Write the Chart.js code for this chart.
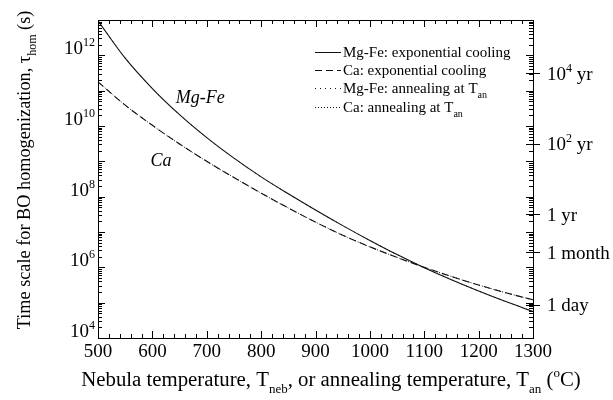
<!DOCTYPE html>
<html>
<head>
<meta charset="utf-8">
<title>Time scale for BO homogenization</title>
<script src="https://cdn.jsdelivr.net/npm/chart.js@4.4.1/dist/chart.umd.min.js"></script>
<style>
    html, body { margin: 0; padding: 0; background: #fff; }
    #wrap { width: 613px; height: 400px; position: relative; }
</style>
</head>
<body>
<div id="wrap"><canvas id="chart"></canvas></div>
<script>
(function () {
    'use strict';

    const temps = [500, 550, 600, 650, 700, 750, 800, 850, 900, 950, 1000, 1050, 1100, 1150, 1200, 1250, 1300];

    // log10 of tau_hom (s)
    const logMgFe = [12.98, 11.92, 11.06, 10.32, 9.67, 9.09, 8.56, 8.08, 7.62, 7.18, 6.76, 6.36, 5.99, 5.65, 5.33, 5.03, 4.75];
    const logCa   = [11.25, 10.59, 10.02, 9.49, 9.00, 8.54, 8.10, 7.68, 7.28, 6.91, 6.58, 6.28, 6.00, 5.74, 5.50, 5.28, 5.08];

    // annealing curves lie on top of the cooling curves at this scale
    const logMgFeAnneal = logMgFe;
    const logCaAnneal = logCa;

    // axis ticks and labels
    const xTicks = [500, 600, 700, 800, 900, 1000, 1100, 1200, 1300];
    const yLabelExps = [4, 6, 8, 10, 12];
    const rightTickValues = [86400, 2.63e6, 3.156e7, 3.156e9, 3.156e11];
    const rightTickLabels = ['1 day', '1 month', '1 yr', '10^{2} yr', '10^{4} yr'];

    const seriesLabels = [
        'Mg-Fe: exponential cooling',
        'Ca: exponential cooling',
        'Mg-Fe: annealing at T_{an}',
        'Ca: annealing at T_{an}'
    ];

    const SERIF = '"Liberation Serif", "Times New Roman", "DejaVu Serif", serif';
    const INK = '#111';

    function toPoints(logs) {
        return temps.map((t, i) => ({ x: t, y: Math.pow(10, logs[i]) }));
    }

    // split "T_{an}" / "10^{4}" into plain, sub and sup pieces
    function parseRich(str) {
        const parts = str.split(/(\^\{[^}]*\}|_\{[^}]*\})/).filter(s => s.length);
        return parts.map(p => {
            if (p.startsWith('^{')) return { text: p.slice(2, -1), mode: 'sup' };
            if (p.startsWith('_{')) return { text: p.slice(2, -1), mode: 'sub' };
            return { text: p, mode: 'normal' };
        });
    }

    function segFont(seg, size, style) {
        const s = seg.mode === 'normal' ? size : Math.round(size * 0.64);
        return `${style || ''} ${s}px ${SERIF}`;
    }

    function richWidth(ctx, str, size, style) {
        let w = 0;
        parseRich(str).forEach(seg => {
            ctx.font = segFont(seg, size, style);
            w += ctx.measureText(seg.text).width;
        });
        return w;
    }

    // draw text with sub/superscripts, y is the baseline
    function drawRich(ctx, str, x, y, size, align, style) {
        const segs = parseRich(str);
        const total = richWidth(ctx, str, size, style);
        let cx = x;
        if (align === 'center') cx = x - total / 2;
        else if (align === 'right') cx = x - total;
        ctx.textAlign = 'left';
        ctx.textBaseline = 'alphabetic';
        segs.forEach(seg => {
            ctx.font = segFont(seg, size, style);
            let dy = 0;
            if (seg.mode === 'sup') dy = -size * 0.42;
            if (seg.mode === 'sub') dy = size * 0.32;
            ctx.fillText(seg.text, cx, y + dy);
            cx += ctx.measureText(seg.text).width;
        });
    }

    // font size that makes a title span the given width
    function fitSize(ctx, str, width) {
        return 19 * width / richWidth(ctx, str, 19);
    }

    const axesPlugin = {
        id: 'paperAxes',
        afterDraw(chart) {
            const { ctx, chartArea: a, scales } = chart;
            const xs = scales.x;
            const ys = scales.y;
            const yr = scales.y2;

            ctx.save();
            ctx.strokeStyle = '#000';
            ctx.fillStyle = '#000';
            ctx.lineWidth = 1;

            // frame
            ctx.strokeRect(Math.round(a.left) + 0.5, Math.round(a.top) + 0.5,
                Math.round(a.right - a.left), Math.round(a.bottom - a.top));

            // x ticks: major every 100, minor every 20, inward on top and bottom
            ctx.beginPath();
            for (let v = xs.min; v <= xs.max; v += 20) {
                const px = Math.round(xs.getPixelForValue(v)) + 0.5;
                const len = v % 100 === 0 ? 7 : 4;
                ctx.moveTo(px, a.bottom);
                ctx.lineTo(px, a.bottom - len);
                ctx.moveTo(px, a.top);
                ctx.lineTo(px, a.top + len);
            }
            // y ticks: decades and 2..9 minors, inward on left and right
            for (let d = 4; d <= 12; d++) {
                for (let k = 1; k <= 9; k++) {
                    const v = k * Math.pow(10, d);
                    if (v > ys.max) break;
                    const py = Math.round(ys.getPixelForValue(v)) + 0.5;
                    const len = k === 1 ? 7 : 4;
                    ctx.moveTo(a.left, py);
                    ctx.lineTo(a.left + len, py);
                    ctx.moveTo(a.right, py);
                    ctx.lineTo(a.right - len, py);
                }
            }
            // right axis labelled ticks, crossing the axis
            rightTickValues.forEach(v => {
                const py = Math.round(yr.getPixelForValue(v)) + 0.5;
                ctx.moveTo(a.right - 7, py);
                ctx.lineTo(a.right + 7, py);
            });
            ctx.stroke();

            // tick labels
            xTicks.forEach(v => {
                drawRich(ctx, String(v), xs.getPixelForValue(v), 357, 19, 'center');
            });
            yLabelExps.forEach(e => {
                const py = ys.getPixelForValue(Math.pow(10, e));
                drawRich(ctx, '10^{' + e + '}', 95, py - 1, 19, 'right');
            });
            rightTickValues.forEach((v, i) => {
                const py = yr.getPixelForValue(v);
                drawRich(ctx, rightTickLabels[i], 547, py + 6.5, 19, 'left');
            });

            // axis titles
            const xTitle = 'Nebula temperature, T_{neb}, or annealing temperature, T_{an} (^{o}C)';
            drawRich(ctx, xTitle, 331, 386, fitSize(ctx, xTitle, 500), 'center');
            const yTitle = 'Time scale for BO homogenization, \u03c4_{hom} (s)';
            ctx.save();
            ctx.translate(30, 170);
            ctx.rotate(-Math.PI / 2);
            drawRich(ctx, yTitle, 0, 0, fitSize(ctx, yTitle, 318), 'center');
            ctx.restore();

            // curve names
            drawRich(ctx, 'Mg-Fe', xs.getPixelForValue(688), ys.getPixelForValue(Math.pow(10, 10.82)) + 6, 18, 'center', 'italic');
            drawRich(ctx, 'Ca', xs.getPixelForValue(616), ys.getPixelForValue(Math.pow(10, 9.04)) + 6, 18, 'center', 'italic');

            // legend in the upper right of the plot
            const rows = [52, 70, 88, 107];
            chart.data.datasets.forEach((ds, i) => {
                const y = rows[i] + 0.5;
                ctx.save();
                ctx.strokeStyle = ds.borderColor;
                ctx.lineWidth = 1;
                ctx.setLineDash(ds.borderDash || []);
                ctx.beginPath();
                ctx.moveTo(315, y);
                ctx.lineTo(341, y);
                ctx.stroke();
                ctx.restore();
                drawRich(ctx, seriesLabels[i], 343, rows[i] + 5, 15, 'left');
            });

            ctx.restore();
        }
    };

    const lineBase = {
        borderColor: INK,
        borderWidth: 1.1,
        pointRadius: 0,
        fill: false,
        cubicInterpolationMode: 'monotone'
    };

    new Chart(document.getElementById('chart'), {
        type: 'line',
        data: {
            datasets: [
                Object.assign({}, lineBase, { label: seriesLabels[0], data: toPoints(logMgFe) }),
                Object.assign({}, lineBase, { label: seriesLabels[1], data: toPoints(logCa), borderDash: [7, 4] }),
                Object.assign({}, lineBase, { label: seriesLabels[2], data: toPoints(logMgFeAnneal), borderDash: [1, 4], borderWidth: 1 }),
                Object.assign({}, lineBase, { label: seriesLabels[3], data: toPoints(logCaAnneal), borderDash: [1, 2], borderWidth: 1 })
            ]
        },
        options: {
            responsive: true,
            maintainAspectRatio: false,
            animation: false,
            layout: { padding: { left: 98, right: 80, top: 20, bottom: 62 } },
            plugins: {
                legend: { display: false },
                tooltip: { enabled: false }
            },
            scales: {
                x: { type: 'linear', min: 500, max: 1300, display: false },
                y: { type: 'logarithmic', min: 1e4, max: 1e13, display: false },
                y2: { type: 'logarithmic', position: 'right', min: 1e4, max: 1e13, display: false }
            }
        },
        plugins: [axesPlugin]
    });
})();
</script>
</body>
</html>
